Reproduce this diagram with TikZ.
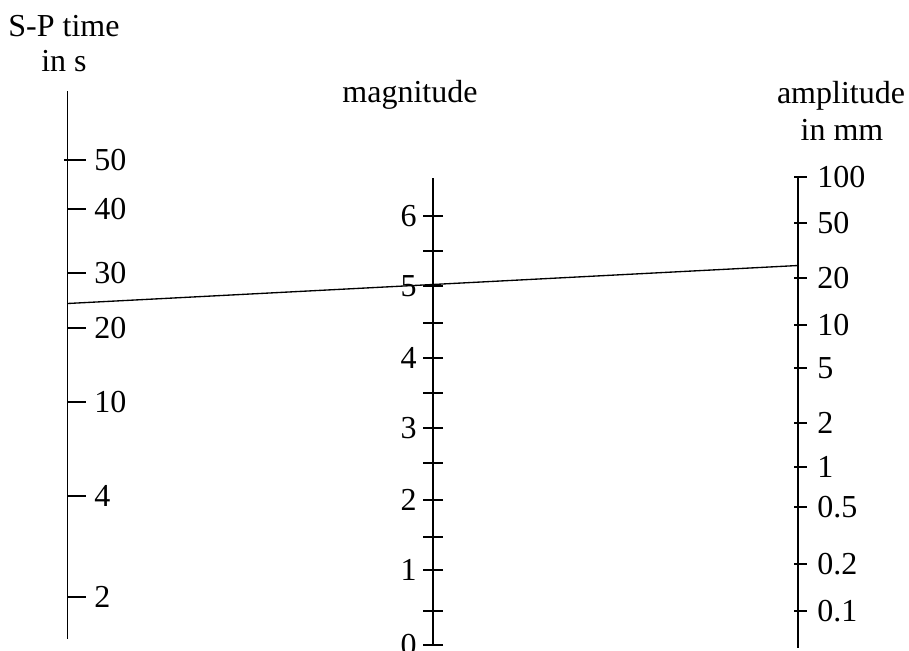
\documentclass[tikz,border=0pt]{standalone}
\usepackage{fontspec}
\setmainfont{Liberation Serif}

\tikzset{every picture/.style={line width=0.75pt}}

\begin{document}
\begin{tikzpicture}[x=0.75pt,y=0.75pt,yscale=-1,xscale=1,
  every node/.style={font=\fontsize{24}{28}\selectfont},
  axis/.style={line width=1.4pt},
  tickline/.style={line width=1.4pt},
  sptick/.style={anchor=west, inner sep=0pt, xshift=5.5pt},
  magtick/.style={anchor=east, inner sep=0pt, xshift=-4pt},
  amptick/.style={anchor=west, inner sep=0pt, xshift=7pt},
  title/.style={anchor=base, inner sep=0pt}]
%set diagram left start at 0, and has height of 650
\useasboundingbox (0,0) rectangle (909,650);

% Text Node
\node[title] (sptitle) at (64,36) {S-P time};
% Text Node
\node[title] (spunit) at (64,71) {in s};
% Text Node
\node[title] (magtitle) at (410,102) {magnitude};
% Text Node
\node[title] (amptitle) at (841,103) {amplitude};
% Text Node
\node[title] (ampunit) at (842,140) {in mm};

%Straight Lines [id:sp] 
\draw[axis] (67.5,91) -- (67.5,639);
\draw[tickline] (64,160) -- (86,160) node[sptick] (sp50) {50};
\draw[tickline] (67.5,209) -- (86,209) node[sptick] (sp40) {40};
\draw[tickline] (67.5,273) -- (86,273) node[sptick] (sp30) {30};
\draw[tickline] (67.5,328) -- (86,328) node[sptick] (sp20) {20};
\draw[tickline] (67.5,402) -- (86,402) node[sptick] (sp10) {10};
\draw[tickline] (67.5,496) -- (86,496) node[sptick] (sp4) {4};
\draw[tickline] (67.5,597) -- (86,597) node[sptick] (sp2) {2};

%Straight Lines [id:mag] 
\draw[axis] (433,178) -- (433,645);
\draw[tickline] (443,216) -- (423,216) node[magtick] (mag6) {6};
\draw[tickline] (423,251) -- (443,251);
\draw[tickline] (443,286) -- (423,286) node[magtick] (mag5) {5};
\draw[tickline] (423,323) -- (443,323);
\draw[tickline] (443,358) -- (423,358) node[magtick] (mag4) {4};
\draw[tickline] (423,393) -- (443,393);
\draw[tickline] (443,428) -- (423,428) node[magtick] (mag3) {3};
\draw[tickline] (423,463) -- (443,463);
\draw[tickline] (443,500) -- (423,500) node[magtick] (mag2) {2};
\draw[tickline] (423,537) -- (443,537);
\draw[tickline] (443,570) -- (423,570) node[magtick] (mag1) {1};
\draw[tickline] (423,611) -- (443,611);
\draw[tickline] (443,645) -- (423,645) node[magtick] (mag0) {0};

%Straight Lines [id:amp] 
\draw[axis] (798,176) -- (798,648);
\draw[tickline] (794,177) -- (807,177) node[amptick] (amp100) {100};
\draw[tickline] (794,223) -- (807,223) node[amptick] (amp50) {50};
\draw[tickline] (794,278) -- (807,278) node[amptick] (amp20) {20};
\draw[tickline] (794,325) -- (807,325) node[amptick] (amp10) {10};
\draw[tickline] (794,368) -- (807,368) node[amptick] (amp5) {5};
\draw[tickline] (794,423) -- (807,423) node[amptick] (amp2) {2};
\draw[tickline] (794,467) -- (807,467) node[amptick] (amp1) {1};
\draw[tickline] (794,507) -- (807,507) node[amptick] (amp05) {0.5};
\draw[tickline] (794,564) -- (807,564) node[amptick] (amp02) {0.2};
\draw[tickline] (794,611) -- (807,611) node[amptick] (amp01) {0.1};

%Straight Lines [id:reading] 
\coordinate (spval) at (67.5,303.5);
\coordinate (ampval) at (798,265.5);
\draw[line width=1pt] (spval) -- (ampval);

\end{tikzpicture}
\end{document}
